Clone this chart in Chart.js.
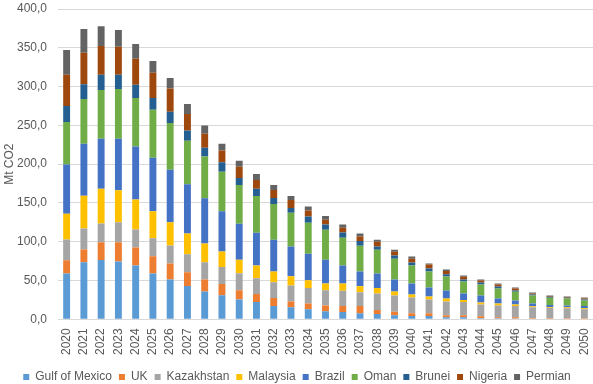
<!DOCTYPE html>
<html>
<head>
<meta charset="utf-8">
<script src="https://cdn.jsdelivr.net/npm/chart.js@4"></script>
<style>
html,body{margin:0;padding:0;background:#fff;}
#wrap{width:593px;height:384px;position:relative;}
</style>
</head>
<body>
<div id="wrap"><canvas id="c" width="593" height="384"></canvas></div>
<script>
const years = ['2020','2021','2022','2023','2024','2025','2026','2027','2028','2029','2030','2031','2032','2033','2034','2035','2036','2037','2038','2039','2040','2041','2042','2043','2044','2045','2046','2047','2048','2049','2050'];
const gulfOfMexico = [59.1,73.7,76.3,74.6,69.4,59.1,51.4,42.9,36.0,30.9,25.6,22.2,17.1,15.4,12.8,10.3,9.4,7.7,6.8,5.1,4.3,4.3,2.6,2.6,1.3,1.3,0.9,0,0,0,0];
const uk = [17.1,16.3,23.1,24.8,23.2,22.3,20.6,17.9,15.4,14.5,12.0,10.3,10.3,7.7,7.7,7.6,7.7,9.4,5.2,4.7,3.4,3.4,2.5,2.5,2.5,1.3,1.7,1.3,1.3,1.3,1.3];
const kazakhstan = [26.6,27.0,24.0,25.7,23.1,23.2,23.1,23.2,22.3,21.9,21.8,20.5,20.5,20.5,19.7,19.7,19.7,17.9,21.3,21.0,20.5,17.9,18.0,17.1,15.4,15.3,14.5,14.1,13.2,12.8,11.5];
const malaysia = [33.4,42.4,45.0,41.2,38.6,34.7,30.0,26.6,24.0,20.1,17.5,16.2,13.6,12.0,10.2,8.6,9.4,7.7,6.9,5.1,3.9,3.9,3.8,2.6,2.6,2.6,2.1,1.3,0.9,1.3,1.3];
const brazil = [63.4,66.8,64.3,66.4,68.5,69.0,67.7,63.4,58.3,51.9,46.2,42.4,41.1,38.4,34.2,30.7,23.0,18.8,18.8,15.4,14.1,11.5,10.3,8.5,9.0,6.4,5.2,3.8,3.0,2.5,3.0];
const oman = [54.8,57.9,63.0,64.3,62.6,61.7,60.4,56.1,54.0,51.0,50.0,47.4,46.1,43.2,39.8,38.5,35.9,33.4,30.8,26.9,23.0,20.5,17.9,15.4,14.1,12.8,11.1,10.3,9.4,9.0,7.3];
const brunei = [20.6,18.9,19.7,18.4,17.1,15.4,14.2,13.3,11.1,12.0,9.0,9.4,7.7,6.4,8.1,6.8,6.9,6.0,4.2,3.9,3.9,3.9,3.0,2.6,2.5,2.6,1.7,1.3,1.3,0.9,1.2];
const nigeria = [40.3,40.7,36.8,36.0,33.5,32.5,30.0,21.4,18.0,15.4,14.5,11.1,10.3,10.3,7.7,6.0,6.0,5.9,6.0,5.1,5.1,5.1,4.3,3.4,2.6,2.6,2.5,1.2,0.8,0.8,1.3];
const permian = [31.7,30.4,25.7,21.4,18.8,15.1,13.7,12.9,10.7,8.5,7.7,7.7,6.4,5.1,5.1,5.1,4.2,3.9,2.6,2.6,2.6,1.3,1.7,1.7,1.3,1.3,1.3,1.3,0.9,0.9,1.3];

const seriesNames = ['Gulf of Mexico','UK','Kazakhstan','Malaysia','Brazil','Oman','Brunei','Nigeria','Permian'];
const seriesData = [gulfOfMexico, uk, kazakhstan, malaysia, brazil, oman, brunei, nigeria, permian];
const seriesColors = ['#5B9BD5','#ED7D31','#A5A5A5','#FFC000','#4472C4','#70AD47','#255E91','#9E480E','#636363'];

Chart.defaults.font.family = '"Liberation Sans", Arial, sans-serif';
Chart.defaults.font.size = 12;
Chart.defaults.color = '#595959';

new Chart(document.getElementById('c'), {
  type: 'bar',
  data: {
    labels: years,
    datasets: seriesNames.map((n, i) => ({
      label: n,
      data: seriesData[i],
      backgroundColor: seriesColors[i],
      borderWidth: 0,
      categoryPercentage: 1.0,
      barPercentage: 0.4
    }))
  },
  options: {
    responsive: false,
    animation: false,
    devicePixelRatio: 1,
    layout: { padding: { left: 0, right: -1, top: 9, bottom: -9 } },
    plugins: {
      legend: {
        position: 'bottom',
        labels: { boxWidth: 6, boxHeight: 6, padding: 7, color: '#595959', font: { size: 12 } }
      },
      tooltip: { enabled: false }
    },
    scales: {
      x: {
        stacked: true,
        grid: { display: false, drawTicks: false },
        border: { color: '#D9D9D9' },
        afterFit: s => { s.paddingLeft = 0; s.paddingRight = 0; },
        ticks: { minRotation: 90, maxRotation: 90, autoSkip: false, padding: 9, color: '#595959' }
      },
      y: {
        stacked: true,
        min: 0, max: 400,
        grid: { color: '#D9D9D9', drawTicks: false },
        border: { display: false },
        afterFit: s => { s.width = 58; s.paddingTop = 0; s.paddingBottom = 0; },
        ticks: {
          stepSize: 50, padding: 11, color: '#595959',
          callback: v => v.toFixed(1).replace('.', ',')
        },
        title: { display: true, text: 'Mt CO2', color: '#595959', font: { size: 12 }, padding: { top: 2, bottom: 0 } }
      }
    }
  }
});
</script>
</body>
</html>
